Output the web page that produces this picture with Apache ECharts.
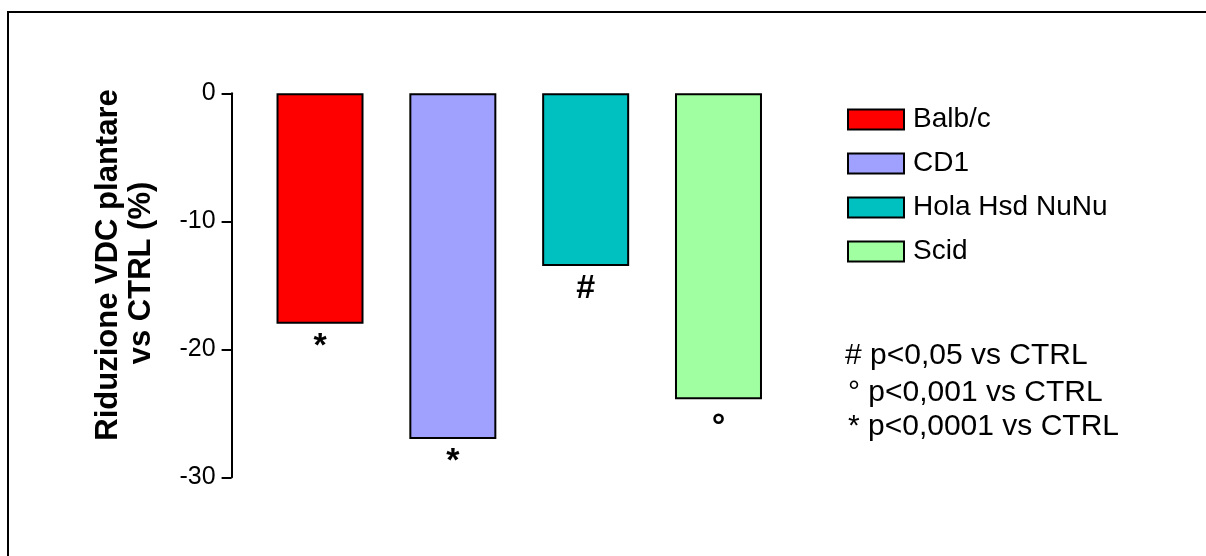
<!DOCTYPE html>
<html>
<head>
<meta charset="utf-8">
<title>Riduzione VDC plantare vs CTRL</title>
<script src="https://cdn.jsdelivr.net/npm/echarts@6/dist/echarts.min.js"></script>
<style>
  html, body { margin: 0; padding: 0; background: #ffffff; }
  #chart { width: 1206px; height: 556px; }
</style>
</head>
<body>
<div id="chart"></div>
<script>
// Mouse strains and their reduction of plantar VDC versus control (%)
const categories = ['Balb/c', 'CD1', 'Hola Hsd NuNu', 'Scid'];
const values = [-18, -27, -13.5, -23.9];
const markers = ['*', '*', '#', '°'];
const colors = ['#ff0000', '#a0a0ff', '#00c0c0', '#a0ffa0'];
const yTicks = { min: -30, max: 0, interval: 10 };
const notes = ['# p<0,05 vs CTRL', '° p<0,001 vs CTRL', '* p<0,0001 vs CTRL'];

const FONT = '"Liberation Sans", Arial, sans-serif';

const chart = echarts.init(document.getElementById('chart'), null, { renderer: 'canvas' });

// One series per strain so the legend lists each; barGap -100% keeps them in their own slot
const series = categories.map((name, i) => ({
  name: name,
  type: 'bar',
  barWidth: 87,
  barGap: '-100%',
  itemStyle: { color: colors[i], borderColor: '#000', borderWidth: 2 },
  label: {
    show: true,
    position: 'bottom',
    distance: 6,
    offset: [0, markers[i] === '°' ? 5 : 0],
    formatter: () => markers[i],
    color: '#000',
    fontFamily: FONT,
    fontWeight: 'bold',
    fontSize: 34
  },
  data: categories.map((_, j) => (j === i ? values[i] : '-'))
}));

const option = {
  backgroundColor: '#ffffff',
  animation: false,
  grid: { left: 253.6, top: 93.3, width: 531.3, height: 384 },
  xAxis: {
    type: 'category',
    data: categories,
    show: false
  },
  yAxis: {
    type: 'value',
    min: yTicks.min,
    max: yTicks.max,
    interval: yTicks.interval,
    offset: 22,
    axisLine: { show: true, lineStyle: { color: '#000', width: 2 } },
    axisTick: { show: true, length: 10, lineStyle: { color: '#000', width: 2 } },
    axisLabel: { color: '#000', fontFamily: FONT, fontSize: 25, margin: 16 },
    splitLine: { show: false }
  },
  legend: {
    orient: 'vertical',
    left: 847,
    top: 105.5,
    padding: 0,
    itemWidth: 56,
    itemHeight: 20,
    itemGap: 16,
    icon: 'rect',
    selectedMode: false,
    itemStyle: { borderColor: '#000', borderWidth: 2 },
    textStyle: { color: '#000', fontFamily: FONT, fontSize: 28, lineHeight: 28, padding: [0, 0, 0, 4] },
    data: categories
  },
  graphic: [
    // outer frame
    {
      type: 'rect',
      shape: { x: 8, y: 12, width: 1400, height: 800 },
      style: { fill: 'none', stroke: '#000', lineWidth: 2 },
      silent: true
    },
    // y axis title, two rotated lines
    {
      type: 'text',
      x: 108, y: 265,
      rotation: Math.PI / 2,
      style: {
        text: 'Riduzione VDC plantare',
        font: 'bold 31px ' + FONT,
        fill: '#000',
        textAlign: 'center',
        textVerticalAlign: 'middle'
      }
    },
    {
      type: 'text',
      x: 141, y: 273,
      rotation: Math.PI / 2,
      style: {
        text: 'vs CTRL (%)',
        font: 'bold 31px ' + FONT,
        fill: '#000',
        textAlign: 'center',
        textVerticalAlign: 'middle'
      }
    },
    // significance notes
    ...notes.map((t, k) => ({
      type: 'text',
      x: k === 0 ? 845 : 848,
      y: [356, 393, 427][k],
      style: {
        text: t,
        font: '30px ' + FONT,
        fill: '#000',
        textAlign: 'left',
        textVerticalAlign: 'middle'
      }
    }))
  ],
  series: series
};

chart.setOption(option);
</script>
</body>
</html>
